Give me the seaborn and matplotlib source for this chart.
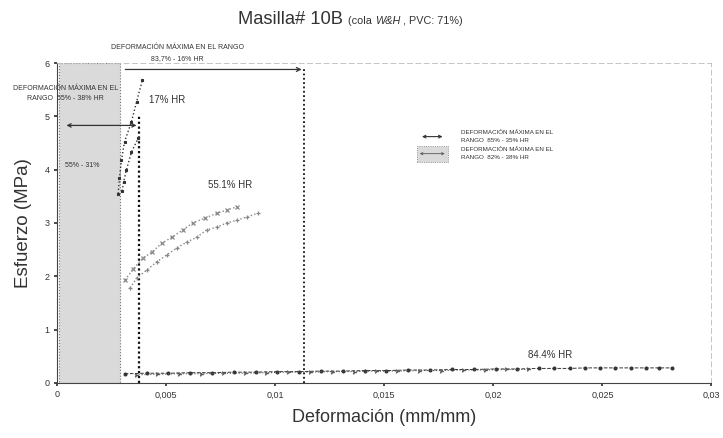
import numpy as np
import pandas as pd
import matplotlib
matplotlib.use("Agg")
import matplotlib.pyplot as plt
from matplotlib.patches import Rectangle
import seaborn as sns

# Stress-strain readings for putty 10B at three relative humidities
x_17a = [0.00280, 0.00286, 0.00295, 0.00309, 0.00341, 0.00364, 0.00391]
y_17a = [3.55, 3.85, 4.18, 4.52, 4.90, 5.27, 5.68]
x_17b = [0.00298, 0.00305, 0.00318, 0.00341, 0.00373]
y_17b = [3.60, 3.77, 4.00, 4.33, 4.60]

x_55a = [0.00311, 0.00348, 0.00393, 0.00434, 0.00480, 0.00526, 0.00576,
         0.00622, 0.00677, 0.00732, 0.00777, 0.00823]
y_55a = [1.93, 2.13, 2.34, 2.45, 2.62, 2.73, 2.87, 3.00, 3.09, 3.18, 3.24, 3.30]
x_55b = [0.00334, 0.00366, 0.00412, 0.00457, 0.00503, 0.00549, 0.00594,
         0.00640, 0.00686, 0.00732, 0.00777, 0.00823, 0.00869, 0.00919]
y_55b = [1.78, 1.97, 2.12, 2.27, 2.40, 2.53, 2.64, 2.73, 2.87, 2.92, 3.00,
         3.05, 3.11, 3.18]

x_84a = [0.0031, 0.0041, 0.0051, 0.0061, 0.0071, 0.0081, 0.0091, 0.0101,
         0.0111, 0.0121, 0.0131, 0.0141, 0.0151, 0.0161, 0.0171, 0.0181,
         0.0191, 0.0201, 0.0211, 0.0221, 0.0228, 0.0235, 0.0242, 0.0249,
         0.0256, 0.0263, 0.0270, 0.0276, 0.0282]
y_84a = [0.17, 0.18, 0.18, 0.19, 0.19, 0.20, 0.20, 0.21, 0.21, 0.22, 0.22,
         0.23, 0.23, 0.24, 0.24, 0.25, 0.25, 0.26, 0.26, 0.27, 0.27, 0.27,
         0.28, 0.28, 0.28, 0.28, 0.28, 0.28, 0.28]
x_84b = [0.0036, 0.0046, 0.0056, 0.0066, 0.0076, 0.0086, 0.0096, 0.0106,
         0.0116, 0.0126, 0.0136, 0.0146, 0.0156, 0.0166, 0.0176, 0.0186,
         0.0196, 0.0206, 0.0216]
y_84b = [0.15, 0.16, 0.17, 0.17, 0.18, 0.18, 0.19, 0.20, 0.20, 0.21, 0.21,
         0.22, 0.22, 0.23, 0.23, 0.24, 0.24, 0.25, 0.25]

x_ticks = [0, 0.005, 0.01, 0.015, 0.02, 0.025, 0.03]
x_tick_labels = ["0", "0,005", "0,01", "0,015", "0,02", "0,025", "0,03"]
y_ticks = [0, 1, 2, 3, 4, 5, 6]

# Maximum-strain ranges
band_range = (0.0001, 0.0029)
strain_limit_low = 0.00377
strain_limit_high = 0.01134

sns.set_theme(style="white")
plt.rcParams["font.family"] = ["Liberation Sans", "DejaVu Sans"]

fig = plt.figure(figsize=(7.23, 4.38), dpi=100)
ax = fig.add_axes([0.079, 0.126, 0.905, 0.73])

# Shaded band for the low-humidity range
ax.add_patch(Rectangle((band_range[0], 0), band_range[1] - band_range[0], 6.0,
                       facecolor="#dadada", edgecolor="#777777", lw=0.8,
                       ls=":", zorder=1))

# Vertical strain limits
ax.plot([strain_limit_low, strain_limit_low], [0, 5.02], color="#111111",
        lw=1.6, ls=(0, (1, 1.2)), zorder=3)
ax.plot([strain_limit_high, strain_limit_high], [0, 5.92], color="#111111",
        lw=1.3, ls=(0, (1, 1.4)), zorder=3)

def draw(xs, ys, color, marker, ms, ls=":", lw=1.0, mew=0.8):
    df = pd.DataFrame({"x": xs, "y": ys})
    sns.lineplot(data=df, x="x", y="y", ax=ax, color=color, lw=lw, ls=ls,
                 marker=marker, markersize=ms, markeredgewidth=mew,
                 markeredgecolor=color, sort=False, zorder=4)

draw(x_17a, y_17a, "#333333", "s", 2.1)
draw(x_17b, y_17b, "#333333", "s", 2.1)
draw(x_55a, y_55a, "#888888", "x", 3.0, mew=0.9)
draw(x_55b, y_55b, "#888888", "+", 3.2, mew=0.9)
draw(x_84a, y_84a, "#333333", "o", 2.1, ls="--", lw=0.7)
draw(x_84b, y_84b, "#555555", "4", 3.4, ls=":", lw=0.8, mew=1.0)

# Strain-range arrows
ax.annotate("", xy=(strain_limit_high, 5.88), xytext=(0.0030, 5.88),
            arrowprops=dict(arrowstyle="->", color="#333333", lw=0.9,
                            mutation_scale=7), zorder=5)
ax.annotate("", xy=(strain_limit_low, 4.83), xytext=(0.0003, 4.83),
            arrowprops=dict(arrowstyle="<->", color="#333333", lw=0.9,
                            mutation_scale=6), zorder=5)

tfs = 5
ax.text(0.00553, 6.29, "DEFORMACIÓN MÁXIMA EN EL RANGO", fontsize=tfs,
        ha="center", va="center", color="#333333", clip_on=False)
ax.text(0.00553, 6.08, "83,7% - 16% HR", fontsize=tfs, ha="center",
        va="center", color="#333333", clip_on=False)
ax.text(0.00037, 5.43, "DEFORMACIÓN MÁXIMA EN EL\nRANGO  55% - 38% HR",
        fontsize=tfs, ha="center", va="center", color="#333333",
        linespacing=1.6, clip_on=False, zorder=6)
ax.text(0.00114, 4.08, "55% - 31%", fontsize=tfs, ha="center", va="center",
        color="#333333", zorder=6)
ax.text(0.0042, 5.3, "17% HR", fontsize=7, ha="left", va="center",
        color="#333333")
ax.text(0.0069, 3.71, "55.1% HR", fontsize=7, ha="left", va="center",
        color="#333333")
ax.text(0.0226, 0.52, "84.4% HR", fontsize=7, ha="center", va="center",
        color="#333333")

# Hand-made key
ax.annotate("", xy=(0.0178, 4.62), xytext=(0.0166, 4.62),
            arrowprops=dict(arrowstyle="<->", color="#333333", lw=0.8,
                            mutation_scale=5))
ax.text(0.0185, 4.62, "DEFORMACIÓN MÁXIMA EN EL\nRANGO  85% - 35% HR",
        fontsize=4.5, ha="left", va="center", color="#333333",
        linespacing=1.6)
ax.add_patch(Rectangle((0.0165, 4.15), 0.0014, 0.30, facecolor="#dadada",
                       edgecolor="#777777", lw=0.6, ls=":"))
ax.annotate("", xy=(0.0179, 4.30), xytext=(0.0165, 4.30),
            arrowprops=dict(arrowstyle="<->", color="#555555", lw=0.6,
                            mutation_scale=4))
ax.text(0.0185, 4.30, "DEFORMACIÓN MÁXIMA EN EL\nRANGO  82% - 38% HR",
        fontsize=4.5, ha="left", va="center", color="#333333",
        linespacing=1.6)

ax.set_xlim(0, 0.03)
ax.set_ylim(0, 6.0)
ax.set_xticks(x_ticks)
ax.set_xticklabels(x_tick_labels)
ax.set_yticks(y_ticks)
ax.tick_params(axis="both", labelsize=6.5, colors="#333333", length=2,
               direction="out", bottom=True, left=True)
ax.set_xlabel("Deformación (mm/mm)", fontsize=13, color="#333333",
              labelpad=7)
ax.set_ylabel("Esfuerzo (MPa)", fontsize=13.5, color="#333333", labelpad=9)

for side in ("left", "bottom"):
    ax.spines[side].set_color("#444444")
    ax.spines[side].set_linewidth(0.8)
for side in ("top", "right"):
    ax.spines[side].set_color("#bbbbbb")
    ax.spines[side].set_linewidth(0.6)
    ax.spines[side].set_linestyle((0, (6, 4)))

# Title: main part plus a smaller trailer, placed piece by piece
renderer = fig.canvas.get_renderer()
t_main = fig.text(238 / 723, 0.955, "Masilla# 10B ", fontsize=13.2,
                  ha="left", va="center", color="#333333")
x_cur = t_main.get_window_extent(renderer).x1
for piece, style in [("(cola ", "normal"), ("W&H", "italic"),
                     (" , PVC: 71%)", "normal")]:
    t = fig.text(x_cur / fig.bbox.width, 0.952, piece, fontsize=7.8,
                 ha="left", va="center", color="#333333", style=style)
    x_cur = t.get_window_extent(renderer).x1

fig.savefig("out.png", dpi=100, facecolor="white")
